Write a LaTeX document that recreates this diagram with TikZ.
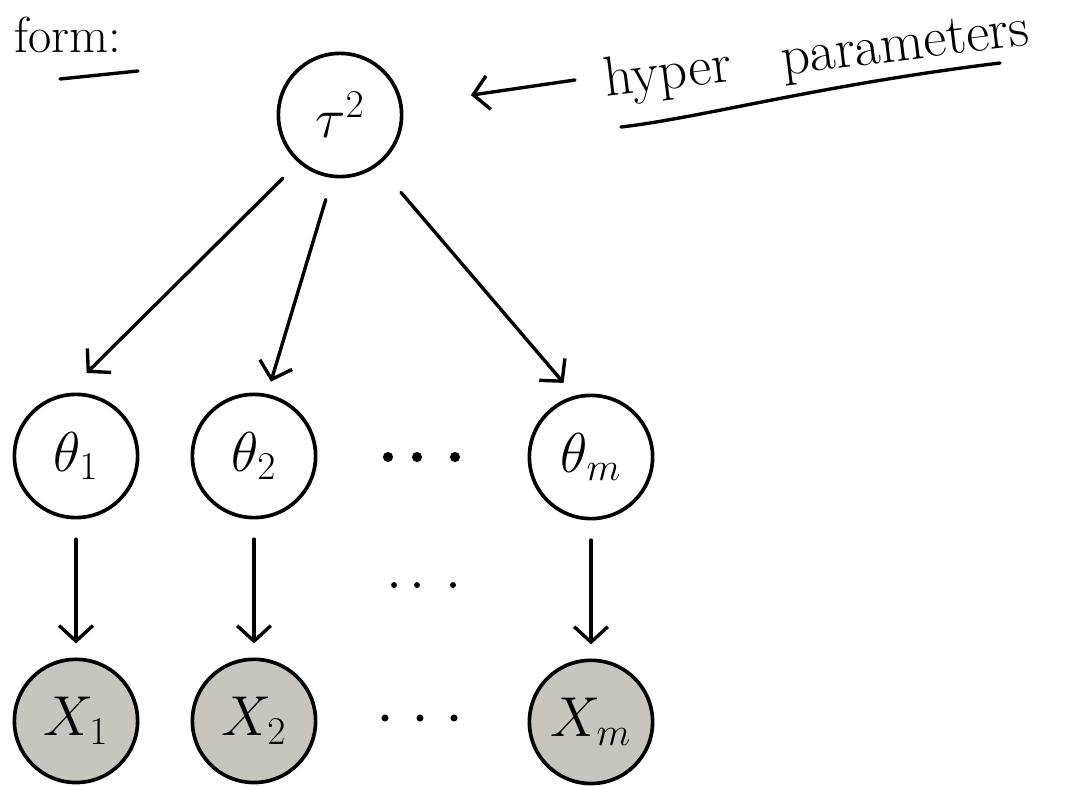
\documentclass[tikz,border=0pt]{standalone}
\usepackage{fix-cm}
\usepackage{amsmath}
\usepackage{fontspec}
\usepackage{xcolor}
\usetikzlibrary{arrows.meta, positioning}
\definecolor{obsgray}{RGB}{200,197,190}
\tikzset{
  param/.style={circle, draw=black, line width=2.6pt, minimum size=3.08cm,
                inner sep=0pt, font=\fontsize{40}{40}\selectfont},
  obs/.style={param, fill=obsgray},
  arrow/.style={-{Straight Barb[length=11pt, width=24pt]}, draw=black,
                line width=2.4pt, line cap=round},
  note/.style={inner sep=0pt, font=\fontsize{40}{42}\selectfont},
  uline/.style={draw=black, line width=2.4pt, line cap=round},
}

\begin{document}
\begin{tikzpicture}[x=0.025cm, y=-0.025cm, node distance=3.45cm]
  \useasboundingbox (0,0) rectangle (1074,785);

  % Nodes
  \node[param] (tau) at (340,115) {$\tau^2$};
  \node[param] (theta1) at (76,456) {$\theta_1$};
  \node[param] (theta2) at (254,456) {$\theta_2$};
  \node[param] (thetam) at (591,457) {$\theta_m$};
  \node[obs, below=of theta1] (x1) {$X_1$};
  \node[obs, below=of theta2] (x2) {$X_2$};
  \node[obs, below=of thetam] (xm) {$X_m$};

  % Notes
  \node[note, anchor=base west, font=\fontsize{36}{38}\selectfont] (form) at (14,52) {form:};
  \node[note, anchor=base west, rotate=7] (hyper) at (606,97) {hyper\hspace{0.9em}parameters};
  \coordinate (hypertail) at (575,80);
  \draw[uline] (60,79) -- (138,71);
  \draw[uline] (621,127) .. controls (700,118) and (820,85) .. (1000,63);

  % Edges
  \draw[arrow, shorten <=15.6pt, shorten >=20.6pt] (tau.229) -- (theta1.99);
  \draw[arrow, shorten <=16pt, shorten >=9.2pt] (tau.263) -- (theta2.78);
  \draw[arrow, shorten <=25pt, shorten >=12pt] (tau.307) -- (thetam.105);
  \draw[arrow, shorten >=49pt] (hypertail) -- (tau.9);
  \foreach \n in {1,2,m}
    \draw[arrow, shorten <=14pt, shorten >=10pt] (theta\n.south) -- (x\n.north);

  % Dots
  \foreach \dx in {388,417,455} \fill (\dx,457) circle (3.6pt);
  \foreach \dx in {394,417,453} \fill (\dx,585) circle (2.1pt);
  \foreach \dx in {385,420,454} \fill (\dx,718) circle (2.5pt);
\end{tikzpicture}
\end{document}
